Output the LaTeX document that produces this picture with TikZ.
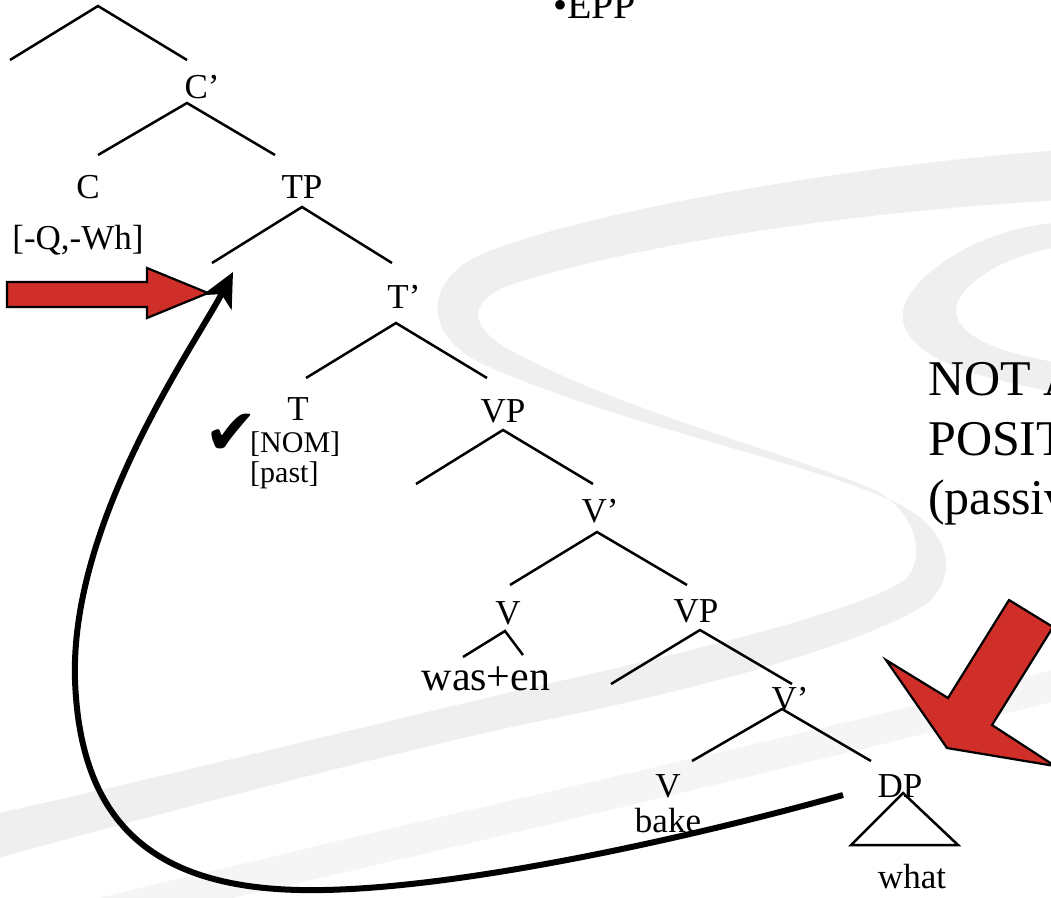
\documentclass[tikz,border=0pt]{standalone}
\usepackage{fontspec}
\setmainfont{Liberation Serif}
\newfontfamily\symfont{DejaVu Sans}
\usetikzlibrary{arrows.meta}
\definecolor{arrowred}{RGB}{208,46,40}
\definecolor{swoosh}{RGB}{239,239,239}
\definecolor{swooshlight}{RGB}{245,245,245}
\begin{document}
\begin{tikzpicture}[x=1pt,y=-1pt,
  lab/.style={font=\fontsize{35}{40}\selectfont, inner sep=0pt, anchor=base},
  feat/.style={font=\fontsize{30}{34}\selectfont, inner sep=0pt, anchor=base west},
  bigtext/.style={font=\fontsize{50}{60}\selectfont, inner sep=0pt, anchor=base west},
  branch/.style={line width=2.5pt},
  redarrow/.style={fill=arrowred, draw=black, line width=2.2pt, line join=miter},
  movearrow/.style={line width=6pt, -{Stealth[length=34pt,width=32pt,inset=9pt]}}
]
\useasboundingbox (0,0) rectangle (1051,897);
\clip (0,0) rectangle (1051,897);
\fill[white] (0,0) rectangle (1051,897);

% background swooshes
\fill[swoosh] (1060,150) .. controls (800,170) and (560,220) .. (480,255)
  .. controls (425,280) and (420,335) .. (485,365)
  .. controls (620,425) and (800,460) .. (890,500)
  .. controls (950,525) and (962,575) .. (925,605)
  .. controls (860,645) and (700,690) .. (520,725)
  .. controls (320,770) and (100,830) .. (-10,860)
  -- (-10,815)
  .. controls (150,780) and (350,730) .. (520,690)
  .. controls (700,650) and (860,610) .. (905,580)
  .. controls (925,560) and (920,515) .. (875,490)
  .. controls (780,450) and (620,410) .. (510,350)
  .. controls (465,325) and (470,300) .. (510,285)
  .. controls (600,255) and (800,215) .. (1060,200) -- cycle;
\fill[swoosh] (1060,223) .. controls (990,225) and (915,270) .. (904,307)
  .. controls (895,335) and (930,362) .. (980,375)
  .. controls (1010,383) and (1040,390) .. (1060,393)
  -- (1060,363)
  .. controls (1010,355) and (960,340) .. (956,313)
  .. controls (952,290) and (1000,255) .. (1060,247) -- cycle;
\fill[swooshlight] (1060,668) .. controls (850,725) and (550,790) .. (300,850)
  .. controls (200,875) and (100,895) .. (60,910)
  -- (180,910)
  .. controls (400,860) and (700,790) .. (1060,700) -- cycle;

% labels
\node[lab] (Cbar) at (202,98) {C’};
\node[lab] (C) at (88,198) {C};
\node[lab] (Cfeat) at (78,249) {[-Q,-Wh]};
\node[lab] (TP) at (302,198) {TP};
\node[lab] (Tbar) at (404,308) {T’};
\node[lab] (T) at (298,420) {T};
\node[feat] (Tnom) at (250,452) {[NOM]};
\node[feat] (Tpast) at (250,482) {[past]};
\node[font=\symfont\fontsize{64}{64}\selectfont, inner sep=0pt] (check) at (231,434) {✔};
\node[lab] (VPa) at (503,422) {VP};
\node[lab] (Vbara) at (600,522) {V’};
\node[lab] (Va) at (508,624) {V};
\node[lab, font=\fontsize{42}{46}\selectfont] (was) at (486,690) {was+en};
\node[lab] (VPb) at (696,622) {VP};
\node[lab] (Vbarb) at (790,710) {V’};
\node[lab] (Vb) at (668,797) {V};
\node[lab] (bake) at (668,832) {bake};
\node[lab] (DP) at (900,797) {DP};
\node[lab] (what) at (912,888) {what};
\node[lab, anchor=base west, font=\fontsize{40}{44}\selectfont] (epp) at (553,18) {•EPP};
\node[bigtext] (l1) at (928,395) {NOT A CASE};
\node[bigtext] (l2) at (928,455) {POSITION};
\node[bigtext] (l3) at (928,514) {(passive)};

% branch points
\coordinate (topA) at (98,6);    \coordinate (topL) at (10,60);   \coordinate (topR) at (187,60);
\coordinate (CbA) at (187,103);  \coordinate (CbL) at (98,155);   \coordinate (CbR) at (275,155);
\coordinate (TPA) at (302,207);  \coordinate (TPL) at (212,263);  \coordinate (TPR) at (392,263);
\coordinate (TbA) at (396,323);  \coordinate (TbL) at (306,378);  \coordinate (TbR) at (487,378);
\coordinate (VPaA) at (503,430); \coordinate (VPaL) at (416,484); \coordinate (VPaR) at (593,484);
\coordinate (VbaA) at (597,532); \coordinate (VbaL) at (510,585); \coordinate (VbaR) at (687,585);
\coordinate (VaA) at (505,631);  \coordinate (VaL) at (463,657);  \coordinate (VaR) at (523,655);
\coordinate (VPbA) at (700,630); \coordinate (VPbL) at (611,684); \coordinate (VPbR) at (792,684);
\coordinate (VbbA) at (782,709); \coordinate (VbbL) at (692,761); \coordinate (VbbR) at (871,761);
\coordinate (DPA) at (903,793);  \coordinate (DPL) at (851,845);  \coordinate (DPR) at (958,845);

\draw[branch] (topL) -- (topA) -- (topR);
\draw[branch] (CbL) -- (CbA) -- (CbR);
\draw[branch] (TPL) -- (TPA) -- (TPR);
\draw[branch] (TbL) -- (TbA) -- (TbR);
\draw[branch] (VPaL) -- (VPaA) -- (VPaR);
\draw[branch] (VbaL) -- (VbaA) -- (VbaR);
\draw[branch] (VaL) -- (VaA) -- (VaR);
\draw[branch] (VPbL) -- (VPbA) -- (VPbR);
\draw[branch] (VbbL) -- (VbbA) -- (VbbR);
\draw[branch, line join=miter] (DPA) -- (DPL) -- (DPR) -- cycle;

% red block arrows
\draw[redarrow] (7,282) -- (147,282) -- (147,268) -- (208,293) -- (147,318)
  -- (147,307) -- (7,307) -- cycle;
\draw[redarrow] (1009,600) -- (1053,627) -- (992,725) -- (1055,766) -- (947,748)
  -- (886,660) -- (948,698) -- cycle;

% movement arrow
\coordinate (mvstart) at (843,795);
\coordinate (mvend) at (233,272);
\draw[movearrow] (mvstart) .. controls (700,835) and (450,893) .. (300,890)
  .. controls (150,887) and (80,820) .. (75,680)
  .. controls (70,520) and (195,345) .. (mvend);
\end{tikzpicture}
\end{document}
